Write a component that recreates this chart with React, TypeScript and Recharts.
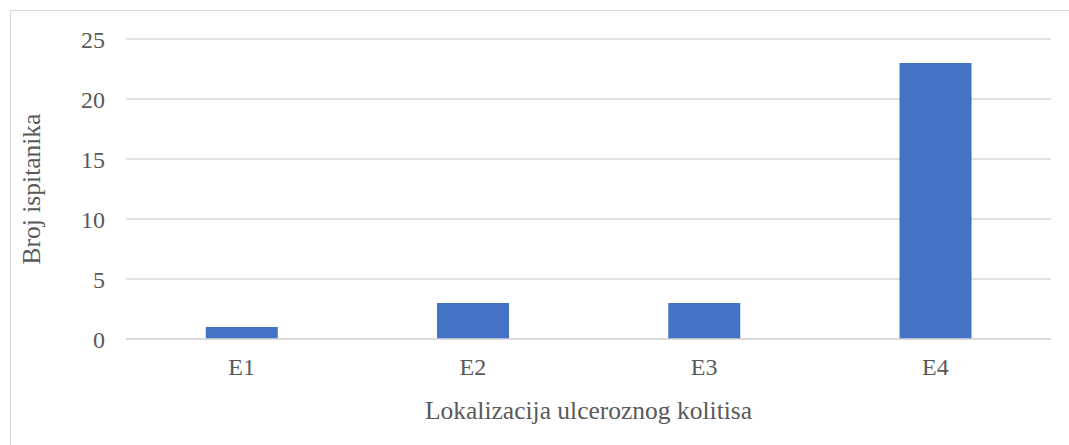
import React from 'react';
import { BarChart, Bar, XAxis, YAxis, CartesianGrid } from 'recharts';

const categories = ['E1', 'E2', 'E3', 'E4'];
const counts = [1, 3, 3, 23];
const yTicks = [0, 5, 10, 15, 20, 25];

const data = categories.map((name, i) => ({ name, value: counts[i] }));

const font = '"Liberation Serif", "Times New Roman", serif';
const textColor = '#595959';

const YTitle = (props: any) => {
  const vb = props.viewBox || {};
  const x = vb.x + 40;
  const y = vb.y + vb.height / 2;
  return (
    <text x={x} y={y} transform={`rotate(-90, ${x}, ${y})`} textAnchor="middle" fill={textColor} fontFamily={font} fontSize={25.5}>
      Broj ispitanika
    </text>
  );
};

export default function App() {
  return (
    <div style={{ position: 'absolute', left: 0, top: 0, width: 1069, height: 445, background: '#fff' }}>
      <div style={{ position: 'absolute', left: 10, top: 10, width: 1070, height: 450, border: '1px solid #d9d9d9', boxSizing: 'border-box' }} />
      <BarChart
        width={1069}
        height={445}
        data={data}
        margin={{ top: 39, right: 18, left: 0, bottom: 0 }}
        barCategoryGap="34.5%"
      >
        <CartesianGrid vertical={false} stroke="#d9d9d9" strokeWidth={1.3} />
        <XAxis
          dataKey="name"
          height={106}
          axisLine={{ stroke: '#d9d9d9', strokeWidth: 1.3 }}
          tickLine={false}
          tickSize={0}
          tickMargin={19}
          tick={{ fill: textColor, fontFamily: font, fontSize: 24 }}
          label={{ value: 'Lokalizacija ulceroznog kolitisa', position: 'insideBottom', offset: 26, fill: textColor, fontFamily: font, fontSize: 25.5 }}
        />
        <YAxis
          width={126}
          domain={[0, 25]}
          ticks={yTicks}
          axisLine={false}
          tickLine={false}
          tickSize={0}
          tickMargin={21}
          tick={{ fill: textColor, fontFamily: font, fontSize: 24 }}
          label={<YTitle />}
        />
        <Bar dataKey="value" fill="#4472C4" isAnimationActive={false} />
      </BarChart>
    </div>
  );
}
